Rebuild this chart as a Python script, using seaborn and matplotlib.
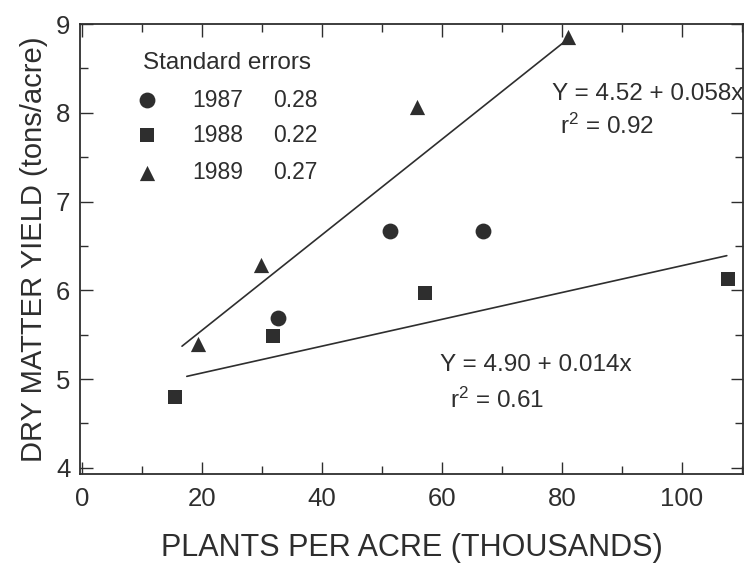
import matplotlib
matplotlib.use("Agg")
import matplotlib.pyplot as plt
import seaborn as sns
import pandas as pd
from matplotlib.ticker import MultipleLocator

# ---- data ----
x_1987 = [32.7, 51.3, 66.8]
y_1987 = [5.69, 6.67, 6.67]
x_1988 = [15.6, 31.8, 57.2, 107.7]
y_1988 = [4.80, 5.48, 5.97, 6.13]
x_1989 = [19.3, 29.8, 55.8, 81.0]
y_1989 = [5.40, 6.29, 8.06, 8.85]

fit_hi_x = [16.7, 81.0]
fit_hi_y = [5.37, 8.83]
fit_lo_x = [17.5, 107.5]
fit_lo_y = [5.03, 6.39]

years = ["1987", "1988", "1989"]
std_errors = ["0.28", "0.22", "0.27"]
eq_hi = ["Y = 4.52 + 0.058x", "r$^2$ = 0.92"]
eq_lo = ["Y = 4.90 + 0.014x", "r$^2$ = 0.61"]
x_ticks = [0, 20, 40, 60, 80, 100]
y_ticks = [4, 5, 6, 7, 8, 9]

sns.set_style("ticks")
plt.rcParams["font.family"] = ["Liberation Sans", "DejaVu Sans"]
plt.rcParams["mathtext.default"] = "regular"

ink = "#2e2e2e"
markers = {"1987": "o", "1988": "s", "1989": "^"}
sizes = {"1987": 130, "1988": 90, "1989": 120}

df = pd.DataFrame({
    "x": x_1987 + x_1988 + x_1989,
    "y": y_1987 + y_1988 + y_1989,
    "year": ["1987"] * len(x_1987) + ["1988"] * len(x_1988) + ["1989"] * len(x_1989),
})
lines = pd.DataFrame({
    "x": fit_hi_x + fit_lo_x,
    "y": fit_hi_y + fit_lo_y,
    "fit": ["hi"] * 2 + ["lo"] * 2,
})

fig = plt.figure(figsize=(7.5, 5.69), dpi=100)
ax = fig.add_axes([80 / 750, 1 - 474 / 569, 663 / 750, 450 / 569])

sns.lineplot(data=lines, x="x", y="y", units="fit", estimator=None,
             color=ink, lw=1.2, ax=ax, legend=False)
for yr in years:
    sub = df[df.year == yr]
    sns.scatterplot(data=sub, x="x", y="y", marker=markers[yr], s=sizes[yr],
                    color=ink, edgecolor=ink, linewidth=0, ax=ax, legend=False)

ax.set_xlim(-0.3, 110.2)
ax.set_ylim(3.93, 9.0)
ax.set_xticks(x_ticks)
ax.set_yticks(y_ticks)
ax.xaxis.set_minor_locator(MultipleLocator(10))
ax.yaxis.set_minor_locator(MultipleLocator(0.5))
ax.tick_params(which="both", direction="in", top=True, right=True,
               color=ink, width=1.0, labelcolor=ink, labelsize=18.5, pad=8)
ax.tick_params(which="major", length=9)
ax.tick_params(which="minor", length=6)
ax.tick_params(axis="x", pad=9)
ax.tick_params(axis="y", labelright=False, pad=7)
for sp in ax.spines.values():
    sp.set_color(ink)
    sp.set_linewidth(1.3)

ax.set_xlabel("PLANTS PER ACRE (THOUSANDS)", fontsize=22, color=ink, labelpad=16)
ax.set_ylabel("DRY MATTER YIELD (tons/acre)", fontsize=21, color=ink, labelpad=6)

# equations
ax.text(78.3, 8.21, eq_hi[0], fontsize=17.5, color=ink, ha="left", va="center")
ax.text(79.7, 7.85, eq_hi[1], fontsize=17.5, color=ink, ha="left", va="center")
ax.text(59.7, 5.16, eq_lo[0], fontsize=17.5, color=ink, ha="left", va="center")
ax.text(61.3, 4.76, eq_lo[1], fontsize=17.5, color=ink, ha="left", va="center")

# legend block
ax.text(0.095, 0.913, "Standard errors", transform=ax.transAxes,
        fontsize=17.5, color=ink, ha="left", va="center")
row_y = [0.831, 0.753, 0.669]
for yr, se, ry in zip(years, std_errors, row_y):
    ax.scatter([0.101], [ry], transform=ax.transAxes, marker=markers[yr],
               s=sizes[yr], color=ink, linewidth=0, clip_on=False)
    ax.text(0.170, ry, yr, transform=ax.transAxes, fontsize=16.5, color=ink,
            ha="left", va="center")
    ax.text(0.291, ry, se, transform=ax.transAxes, fontsize=16.5, color=ink,
            ha="left", va="center")

fig.savefig("out.png", dpi=100)
